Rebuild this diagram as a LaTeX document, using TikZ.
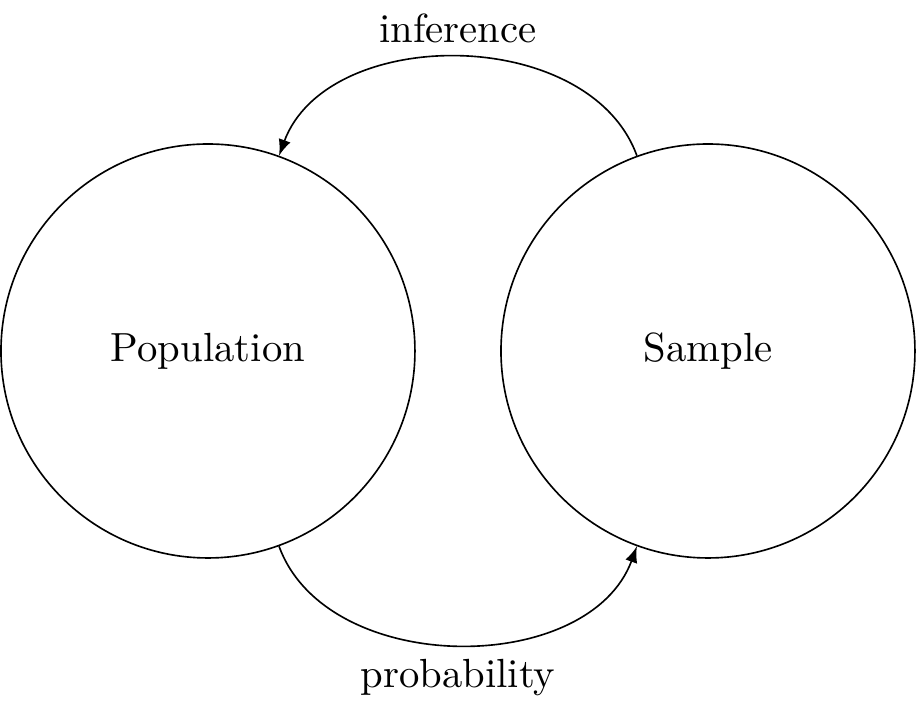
\documentclass[tikz,border=0pt]{standalone}
\usepackage{tikz}

\begin{document}
\begin{tikzpicture}[group/.style={circle, draw, minimum size=3.575cm}]
			%%%%% START %%%%%
			\useasboundingbox (-1.796, -3.109) rectangle (6.123, 3.031);
			
			\node[group] (pop) at (0, 0) {Population};
			\node[group] (samp) at (4.318, 0) {Sample};
			
			\draw[-latex] (samp) to[bend right=70] node[above] {inference} (pop);
			\draw[-latex] (pop) to[bend right=70] node[below] {probability} (samp);
			%%%%% END %%%%%
		\end{tikzpicture}
\end{document}
